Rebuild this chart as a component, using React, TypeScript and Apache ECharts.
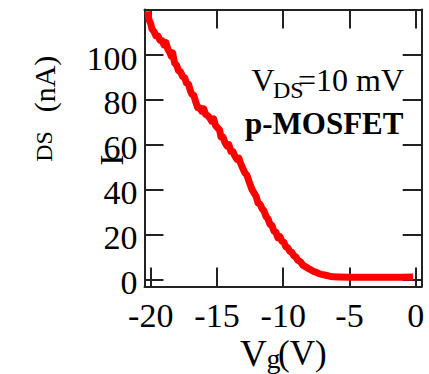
import React, { useEffect, useRef } from "react";
import * as echarts from "echarts";

const vg: number[] = [
  -20.2, -20.15, -20.0, -19.9, -19.75, -19.6, -19.45, -19.3, -19.15, -19.0,
  -18.85, -18.7, -18.55, -18.45, -18.35, -18.2, -18.05, -17.9, -17.75, -17.6,
  -17.45, -17.3, -17.15, -17.0, -16.9, -16.75, -16.6, -16.45, -16.3, -16.15,
  -16.0, -15.85, -15.7, -15.55, -15.4, -15.25, -15.1, -14.95, -14.8, -14.7,
  -14.55, -14.4, -14.25, -14.1, -13.95, -13.8, -13.65, -13.5, -13.35, -13.2,
  -13.05, -12.9, -12.75, -12.6, -12.45, -12.35, -12.2, -12.05, -11.9, -11.75,
  -11.6, -11.45, -11.3, -11.15, -11.0, -10.85, -10.7, -10.55, -10.4, -10.25,
  -10.1, -9.95, -9.8, -9.65, -9.5, -9.35, -9.2, -9.05, -8.9, -8.7,
  -8.5, -8.3, -8.1, -7.9, -7.7, -7.5, -7.3, -7.1, -6.8, -6.5,
  -6.2, -5.8, -5.0, -4.0, -3.0, -2.0, -1.0, -0.2,
];
const ids: number[] = [
  119.5, 116, 114, 111.5, 110.5, 108.5, 108.5, 106.5, 106.5, 104.5,
  105.5, 102.5, 101, 99.5, 101, 96.5, 95.5, 93, 92.5, 90.5,
  90, 87.5, 87, 84, 82.5, 82, 79, 76.5, 76.5, 75,
  76, 73.5, 73, 72, 70.5, 71.5, 68.5, 67.5, 66.5, 63.5,
  63.5, 61, 59.5, 60, 57, 57, 55, 53.5, 54, 51.5,
  49.5, 47.5, 46.5, 44, 41.5, 40, 38.5, 37, 34, 33.5,
  31.5, 30.5, 28, 27, 24.5, 24, 21.5, 21, 18.5, 19,
  17, 16.5, 14.5, 14, 12.5, 12, 10.5, 10, 8.5, 7.8,
  6.2, 5.6, 4.8, 4.2, 3.5, 3.1, 2.5, 2.2, 1.8, 1.4,
  1.1, 1.0, 0.9, 0.9, 0.9, 0.9, 0.9, 1.0,
];
const xTicks: number[] = [-20, -15, -10, -5, 0];
const yTicks: number[] = [0, 20, 40, 60, 80, 100];

const SERIF = "Liberation Serif";
const FRAME = "#222";

export default function App() {
  const ref = useRef<HTMLDivElement>(null);
  useEffect(() => {
    if (!ref.current) return;
    const chart = echarts.init(ref.current, undefined, { renderer: "svg" });
    const lineStyle = { color: FRAME, width: 2 };
    const axisLine = { show: true, onZero: false, lineStyle };
    const tick = { show: true, inside: true, length: 19, lineStyle, customValues: xTicks };
    const ytick = { show: true, inside: true, length: 19, lineStyle, customValues: yTicks };
    const labelRich = {
      s: { fontFamily: SERIF, fontSize: 34, color: "#000", fontWeight: "normal" },
    };
    const txt = (t: string, x: number, y: number, fs: number, extra: any = {}) => ({
      type: "text",
      x,
      y,
      rotation: extra.rotation || 0,
      style: {
        text: t,
        fontFamily: SERIF,
        fontSize: fs,
        fontWeight: extra.bold ? "bold" : "normal",
        fill: "#000",
        align: extra.align || "left",
        verticalAlign: "middle",
      },
    });
    chart.setOption({
      animation: false,
      backgroundColor: "#fff",
      textStyle: { fontFamily: SERIF },
      grid: { left: 144.5, top: 9.5, right: 7.3, bottom: 87.5, containLabel: false },
      xAxis: [
        {
          type: "value",
          min: -20.47,
          max: 0.45,
          position: "bottom",
          axisLine,
          axisTick: tick,
          splitLine: { show: false },
          axisLabel: {
            customValues: xTicks,
            fontFamily: SERIF,
            fontSize: 34,
            color: "#000",
            margin: 12,
            formatter: (v: number) => "{s|" + String(v) + "}",
            rich: labelRich,
          },
        },
        {
          type: "value",
          min: -20.47,
          max: 0.45,
          position: "top",
          axisLine,
          axisTick: tick,
          splitLine: { show: false },
          axisLabel: { show: false },
        },
      ],
      yAxis: [
        {
          type: "value",
          min: -3.2,
          max: 120.3,
          position: "left",
          axisLine,
          axisTick: ytick,
          splitLine: { show: false },
          axisLabel: {
            customValues: yTicks,
            fontFamily: SERIF,
            fontSize: 34,
            color: "#000",
            margin: 7,
            padding: [6, 0, 0, 0],
            formatter: (v: number) => "{s|" + String(v) + "}",
            rich: labelRich,
          },
        },
        {
          type: "value",
          min: -3.2,
          max: 120.3,
          position: "right",
          axisLine,
          axisTick: ytick,
          splitLine: { show: false },
          axisLabel: { show: false },
        },
      ],
      series: [
        {
          type: "line",
          data: vg.map((x, i) => [x, ids[i]]),
          showSymbol: false,
          symbol: "none",
          lineStyle: { color: "#ff0000", width: 7, join: "round" },
          xAxisIndex: 0,
          yAxisIndex: 0,
          clip: true,
        },
      ],
      graphic: [
        txt("V", 251.5, 79.8, 32),
        txt("DS", 273, 90.3, 24),
        txt("=10 mV", 298, 79.8, 32),
        txt("p-MOSFET", 245, 123, 31, { bold: true }),
        txt("V", 240, 353, 37),
        txt("g", 266.5, 358, 28),
        txt("(V)", 278, 353.5, 35),
        txt("I", 111.5, 160, 34, { rotation: Math.PI / 2, align: "center" }),
        txt("DS", 44, 146.5, 24, { rotation: Math.PI / 2, align: "center" }),
        txt("(nA)", 44, 84, 30, { rotation: Math.PI / 2, align: "center" }),
      ],
    });
    return () => chart.dispose();
  }, []);
  return (
    <div
      ref={ref}
      style={{ position: "fixed", left: 0, top: 0, width: 429, height: 374 }}
    />
  );
}
